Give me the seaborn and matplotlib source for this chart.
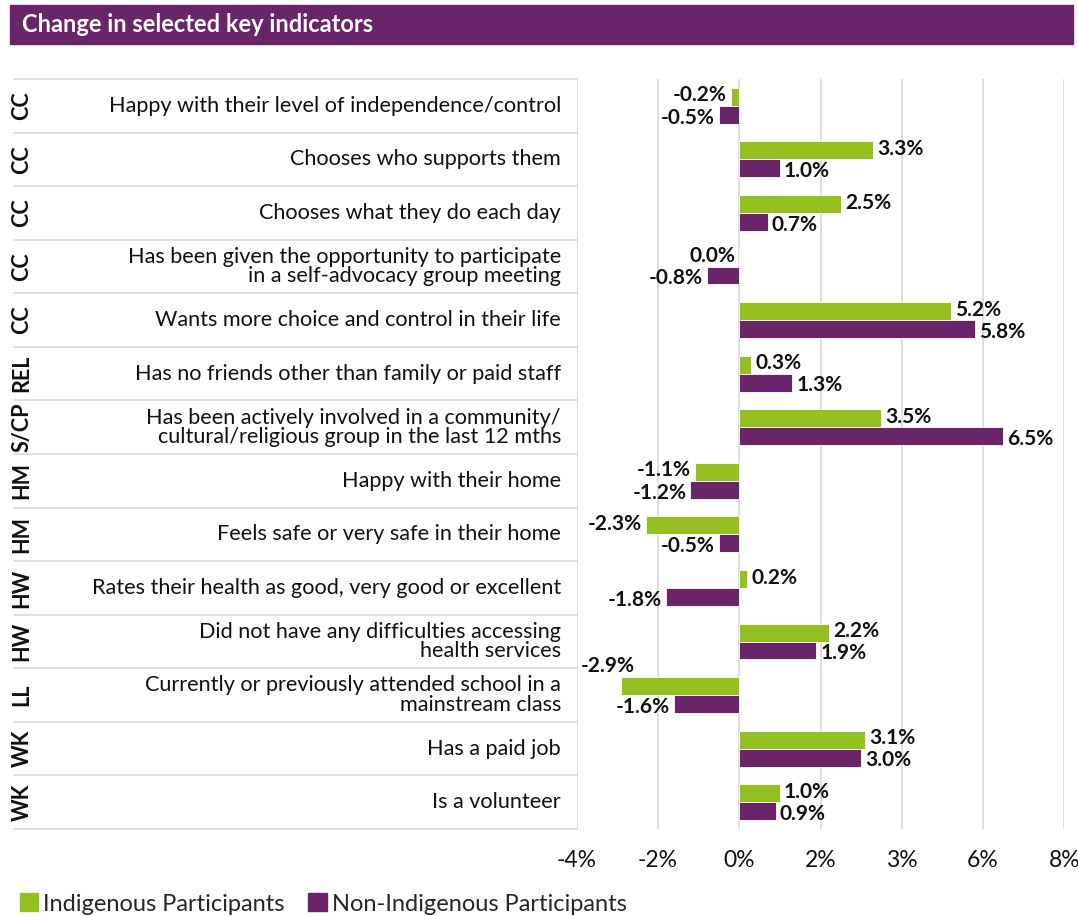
import numpy as np
import pandas as pd
import matplotlib
matplotlib.use("Agg")
import matplotlib.pyplot as plt
import matplotlib.transforms as mtransforms
from matplotlib.patches import Rectangle, Patch
from matplotlib.lines import Line2D
import seaborn as sns

# data
codes = ["CC", "CC", "CC", "CC", "CC", "REL", "S/CP", "HM", "HM", "HW", "HW", "LL", "WK", "WK"]
labels = [
    "Happy with their level of independence/control",
    "Chooses who supports them",
    "Chooses what they do each day",
    "Has been given the opportunity to participate\nin a self-advocacy group meeting",
    "Wants more choice and control in their life",
    "Has no friends other than family or paid staff",
    "Has been actively involved in a community/\ncultural/religious group in the last 12 mths",
    "Happy with their home",
    "Feels safe or very safe in their home",
    "Rates their health as good, very good or excellent",
    "Did not have any difficulties accessing\nhealth services",
    "Currently or previously attended school in a\nmainstream class",
    "Has a paid job",
    "Is a volunteer",
]
indigenous = [-0.2, 3.3, 2.5, 0.0, 5.2, 0.3, 3.5, -1.1, -2.3, 0.2, 2.2, -2.9, 3.1, 1.0]
non_indigenous = [-0.5, 1.0, 0.7, -0.8, 5.8, 1.3, 6.5, -1.2, -0.5, -1.8, 1.9, -1.6, 3.0, 0.9]
groups = ["Indigenous Participants", "Non-Indigenous Participants"]
tick_vals = [-4, -2, 0, 2, 4, 6, 8]
tick_labels = ["-4%", "-2%", "0%", "2%", "3%", "6%", "8%"]

GREEN = "#93C01F"
PURPLE = "#6A246A"
GRID = "#D9D9D9"

sns.set_theme(style="white")
plt.rcParams["font.family"] = ["Lato", "DejaVu Sans"]

df = pd.DataFrame({
    "label": labels * 2,
    "value": indigenous + non_indigenous,
    "group": [groups[0]] * len(labels) + [groups[1]] * len(labels),
})

W, H = 1078, 916
fig = plt.figure(figsize=(W / 100, H / 100), dpi=100)
ax_left, ax_right = 576.7 / W, 1064.3 / W
ax_top, ax_bot = 1 - 79 / H, 1 - 829 / H
ax = fig.add_axes([ax_left, ax_bot, ax_right - ax_left, ax_top - ax_bot])

sns.barplot(data=df, y="label", x="value", hue="group", orient="h",
            palette=[GREEN, PURPLE], saturation=1, width=0.67, gap=0, ax=ax,
            edgecolor="white", linewidth=0.6, legend=False)

ax.set_xlim(-4, 8)
ax.set_ylim(len(labels) - 0.5, -0.5)
ax.set_xticks(tick_vals)
ax.set_xticklabels(tick_labels, fontsize=16.5, color="#111111")
ax.tick_params(axis="x", length=0, pad=15)
ax.set_yticks([])
ax.set_xlabel("")
ax.set_ylabel("")
for s in ax.spines.values():
    s.set_visible(False)
ax.grid(axis="x", color=GRID, linewidth=1.2)
ax.set_axisbelow(True)

# value labels
for k, (container, vals) in enumerate(zip(ax.containers, [indigenous, non_indigenous])):
    dy = 1 if k == 0 else -2
    for bar, v in zip(container.patches, vals):
        yc = bar.get_y() + bar.get_height() / 2
        end = bar.get_x() + bar.get_width()
        txt = f"{v:.1f}%"
        if v < -2.6:
            ax.annotate(txt, xy=(end, bar.get_y()), xytext=(-10, 1),
                        textcoords="offset points", ha="center", va="bottom",
                        fontsize=15, fontweight="bold", color="#111111")
        elif v > 0:
            ax.annotate(txt, xy=(end, yc), xytext=(3, dy),
                        textcoords="offset points", ha="left", va="center",
                        fontsize=15, fontweight="bold", color="#111111")
        else:
            ax.annotate(txt, xy=(end, yc), xytext=(-3, dy),
                        textcoords="offset points", ha="right", va="center",
                        fontsize=15, fontweight="bold", color="#111111")

# table on the left
trans = mtransforms.blended_transform_factory(fig.transFigure, ax.transData)
for i, (code, lab) in enumerate(zip(codes, labels)):
    ax.text(561 / W, i, lab, transform=trans, ha="right", va="center",
            fontsize=15.6, color="#111111", linespacing=0.95, clip_on=False)
    ax.text(22 / W, i, code, transform=trans, ha="center", va="center",
            rotation=90, fontsize=15.5, fontweight="bold", color="#111111",
            clip_on=False)
for i in range(len(labels) + 1):
    ax.add_line(Line2D([14 / W, ax_left], [i - 0.5, i - 0.5], transform=trans,
                       color=GRID, linewidth=1.2, clip_on=False))

# title bar
fig.patches.append(Rectangle((10 / W, 1 - 44 / H), 1063 / W, 39 / H,
                             transform=fig.transFigure, color=PURPLE, zorder=0))
fig.text(22 / W, 1 - 24 / H, "Change in selected key indicators", color="white",
         fontsize=17, fontweight="bold", ha="left", va="center")

# legend
handles = [Patch(color=GREEN), Patch(color=PURPLE)]
fig.legend(handles, groups, loc="lower left", bbox_to_anchor=(0.005, -0.014),
           ncol=2, frameon=False, fontsize=17, handlelength=0.8, handleheight=0.8,
           handletextpad=0.2, columnspacing=1.0, borderaxespad=0.2)

fig.savefig("out.png", dpi=100)
